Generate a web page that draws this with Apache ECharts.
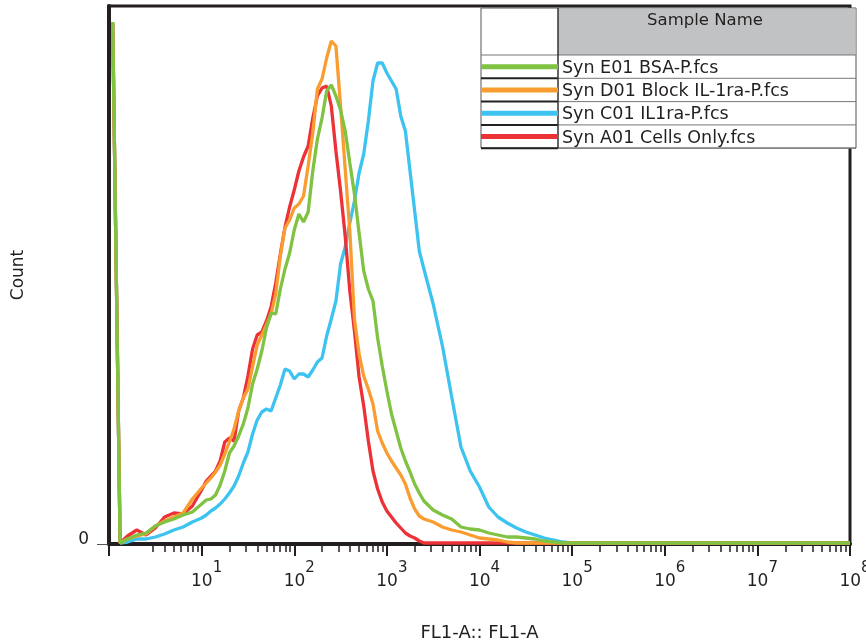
<!DOCTYPE html>
<html><head><meta charset="utf-8">
<script src="https://cdn.jsdelivr.net/npm/echarts@6/dist/echarts.min.js"></script>
<style>html,body{margin:0;padding:0;background:#fff}#c{width:866px;height:643px}</style>
</head><body><div id="c"></div>
<script>
// FL1-A intensity, log10 (decades)
const fl1Log = [
  0.04,0.12,0.2,0.3,0.4,0.5,0.6,0.7,0.8,0.9,
  1.0,1.05,1.1,1.15,1.2,1.25,1.3,1.35,1.4,1.45,
  1.5,1.55,1.6,1.65,1.7,1.75,1.8,1.85,1.9,1.95,
  2.0,2.05,2.1,2.15,2.2,2.25,2.3,2.35,2.4,2.45,
  2.5,2.55,2.6,2.65,2.7,2.75,2.8,2.85,2.9,2.95,
  3.0,3.05,3.1,3.15,3.2,3.25,3.3,3.35,3.4,
  3.5,3.6,3.7,3.8,3.9,4.0,4.1,4.2,4.3,4.4,4.5,4.6,4.7,4.8,4.9,5.0,
  5.2,8.0
];
const countE01 = [ // green
  522,1,5,9,11,18,22,25,29,32,
  40,44,45,49,59,73,91,98,108,120,
  136,160,175,193,216,231,230,255,275,291,
  314,330,322,332,373,405,426,453,459,448,
  434,413,381,350,311,273,255,243,206,178,
  153,130,113,96,83,72,60,51,43,
  34,29,25,17,15,14,11,9,7,7,6,5,3,2,1,1,
  1,1
];
const countD01 = [ // orange
  521,1,5,8,10,18,23,27,31,45,
  56,61,66,72,79,90,102,115,133,146,
  155,177,199,209,219,230,250,288,316,324,
  336,340,348,378,411,455,465,486,503,498,
  438,375,313,225,190,168,155,140,113,101,
  91,83,76,69,60,46,35,28,25,
  22,17,14,12,9,6,5,4,2,1,1,1,1,1,1,1,
  1,1
];
const countC01 = [ // blue
  521,1,2,5,5,7,10,14,17,22,
  26,29,33,36,40,45,51,58,68,81,
  92,110,124,132,135,133,146,159,175,173,
  165,170,170,167,174,182,186,208,225,243,
  280,297,321,343,371,390,423,463,481,481,
  471,463,455,428,413,373,333,293,275,
  240,198,147,97,73,57,37,27,21,16,12,9,6,4,2,1,
  1,1
];
const countA01 = [ // red
  521,1,8,14,9,16,27,31,30,38,
  54,63,68,73,83,102,106,103,133,146,
  168,195,209,212,223,237,261,290,317,337,
  354,373,387,398,426,448,456,458,438,393,
  353,308,253,213,167,138,103,73,55,42,
  33,27,21,16,11,8,6,3,1,
  1,1,1,1,1,1,1,1,1,1,1,1,1,1,1,1,
  1,1
];
const sampleNames = ['Syn E01 BSA-P.fcs','Syn D01 Block IL-1ra-P.fcs','Syn C01 IL1ra-P.fcs','Syn A01 Cells Only.fcs'];
const sampleColors = ['#80c242','#f99d31','#3cc3ef','#ec3237'];
const sampleCounts = [countE01, countD01, countC01, countA01];
const drawOrder = [2, 3, 1, 0]; // blue, red, orange, green (top)
const majorDecades = [0,1,2,3,4,5,6,7,8];
const labelDecades = [1,2,3,4,5,6,7,8];
const minorMultipliers = [2,3,4,5,6,7,8,9];

const FONT = 'DejaVu Sans';
const INK = '#231f20';

const minorTicks = [];
for (let d = 0; d < 8; d++) {
  minorMultipliers.forEach(m => { if (!(d === 0 && m === 2)) minorTicks.push(d + Math.log10(m)); });
}

const series = drawOrder.map(i => ({
  type: 'line',
  name: sampleNames[i],
  xAxisIndex: 0,
  data: fl1Log.map((l, k) => [l, sampleCounts[i][k]]),
  showSymbol: false,
  symbol: 'none',
  lineStyle: { color: sampleColors[i], width: 3.3 },
  itemStyle: { color: sampleColors[i] },
  animation: false
}));

// legend table
const L = { x: 481, y: 8, w: 375, h: 140, col: 558, head: 55, rowH: 23.3 };
const g = [];
g.push({ type: 'rect', z: 100, shape: { x: L.x, y: L.y, width: L.w, height: L.h }, style: { fill: '#fff', stroke: '#555', lineWidth: 1 } });
g.push({ type: 'rect', z: 101, shape: { x: L.col, y: L.y + 0.5, width: L.x + L.w - L.col - 0.5, height: L.head - L.y - 0.5 }, style: { fill: '#c1c2c4' } });
g.push({ type: 'text', z: 103, x: (L.col + L.x + L.w) / 2 - 2, y: 21, style: { text: 'Sample Name', fontSize: 16.5, fontFamily: FONT, fill: INK, align: 'center', verticalAlign: 'middle', textAlign: 'center', textVerticalAlign: 'middle' } });
g.push({ type: 'line', z: 102, shape: { x1: L.x, y1: L.head, x2: L.x + L.w, y2: L.head }, style: { stroke: '#777', lineWidth: 1 } });
sampleNames.forEach((name, i) => {
  const top = L.head + i * L.rowH;
  const bottom = top + L.rowH;
  const mid = top + L.rowH / 2;
  g.push({ type: 'line', z: 102, shape: { x1: L.col, y1: bottom, x2: L.x + L.w, y2: bottom }, style: { stroke: '#777', lineWidth: 1 } });
  g.push({ type: 'line', z: 102, shape: { x1: L.x, y1: bottom, x2: L.col, y2: bottom }, style: { stroke: '#222', lineWidth: 2 } });
  g.push({ type: 'line', z: 103, shape: { x1: L.x, y1: mid, x2: L.col, y2: mid }, style: { stroke: sampleColors[i], lineWidth: 5 } });
  g.push({ type: 'text', z: 103, x: L.col + 4, y: mid + 1.5, style: { text: name, fontSize: 17.5, fontFamily: FONT, fill: INK, align: 'left', verticalAlign: 'middle', textAlign: 'left', textVerticalAlign: 'middle' } });
});
g.push({ type: 'line', z: 102, shape: { x1: L.col, y1: L.y, x2: L.col, y2: L.y + L.h }, style: { stroke: '#333', lineWidth: 1.5 } });

const chart = echarts.init(document.getElementById('c'), null, { renderer: 'canvas' });
chart.setOption({
  animation: false,
  backgroundColor: '#fff',
  grid: { left: 109, right: 16, top: 6, bottom: 99, outerBoundsMode: 'none', containLabel: false, show: true, borderColor: INK, borderWidth: 3, backgroundColor: 'transparent' },
  xAxis: [
    {
      type: 'value', min: 0, max: 8,
      name: 'FL1-A:: FL1-A', nameLocation: 'middle', nameGap: 80,
      nameTextStyle: { fontFamily: FONT, fontSize: 18, color: INK },
      axisLine: { show: true, onZero: false, lineStyle: { color: INK, width: 4 } },
      axisTick: { show: true, customValues: majorDecades, length: 12, lineStyle: { color: INK, width: 2 } },
      axisLabel: {
        show: true, customValues: labelDecades, margin: 29, color: INK, hideOverlap: false,
        formatter: v => '{m|10}{e|' + Math.round(v) + '}',
        rich: {
          m: { fontFamily: FONT, fontSize: 17, lineHeight: 17, color: INK, padding: [0, 0, 0, 10], verticalAlign: 'bottom' },
          e: { fontFamily: FONT, fontSize: 15, lineHeight: 15, color: INK, padding: [0, 0, 14, 0], verticalAlign: 'bottom' }
        }
      },
      splitLine: { show: false }
    },
    {
      type: 'value', min: 0, max: 8, position: 'bottom',
      axisLine: { show: false },
      axisTick: { show: true, customValues: minorTicks, length: 8, lineStyle: { color: INK, width: 1.5 } },
      axisLabel: { show: false },
      splitLine: { show: false }
    }
  ],
  yAxis: {
    type: 'value', min: 0, max: 538,
    name: 'Count', nameLocation: 'middle', nameGap: 82, nameRotate: 90,
    nameTextStyle: { fontFamily: FONT, fontSize: 17, color: INK },
    axisLine: { show: true, onZero: false, lineStyle: { color: INK, width: 4 } },
    axisTick: { show: true, customValues: [0], length: 12, lineStyle: { color: '#555', width: 1 } },
    axisLabel: {
      show: true, customValues: [0], margin: 20, color: INK,
      formatter: v => '{z|' + v + '}',
      rich: { z: { fontFamily: FONT, fontSize: 17, lineHeight: 17, color: INK, padding: [0, 0, 9, 0] } }
    },
    splitLine: { show: false }
  },
  graphic: { elements: g },
  series: series
});
</script>
</body></html>
